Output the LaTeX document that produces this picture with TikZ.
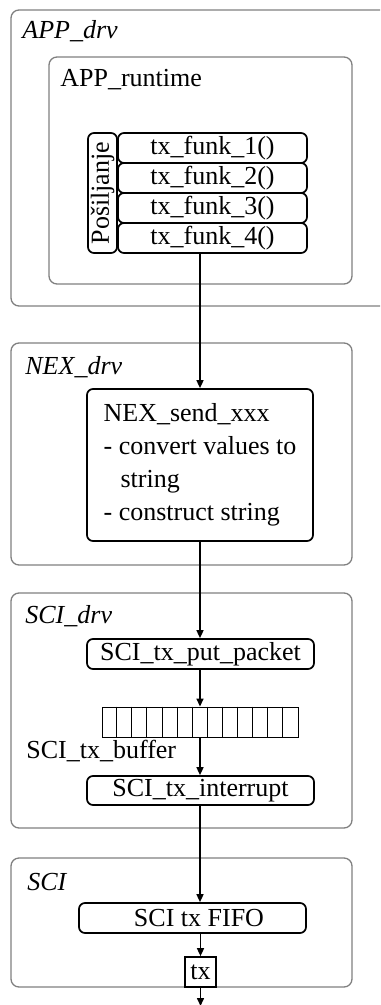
\documentclass[tikz,border=0pt]{standalone}
\usepackage{fontspec}
\setmainfont{Liberation Serif}
\usetikzlibrary{arrows.meta, positioning, calc}
\definecolor{framegray}{HTML}{808080}

\begin{document}
\begin{tikzpicture}[
  x=0.5pt, y=-0.5pt,
  font=\fontsize{13}{16.5}\selectfont,
  layer/.style={rectangle, rounded corners=4pt, draw=framegray, line width=0.65pt},
  laytitle/.style={anchor=base west, inner sep=0pt, font=\fontsize{13}{16.5}\selectfont\itshape},
  plain/.style={anchor=base west, inner sep=0pt},
  func/.style={rectangle, rounded corners=3pt, draw, line width=0.85pt,
               minimum width=113.5pt, minimum height=15pt, inner sep=0pt},
  row/.style={func, minimum width=94.5pt},
  cellbox/.style={rectangle, draw, line width=0.45pt, minimum width=98pt,
                  minimum height=15pt, inner sep=0pt},
  arr/.style={-{Triangle[length=4pt,width=3.5pt]}, line width=0.75pt}
]
\clip (0,0) rectangle (380,1005);

% layers
\node[layer, minimum width=192pt, minimum height=148pt] (appdrv) at (203,158) {};
\node[layer, minimum width=151.5pt, minimum height=113.5pt] (apprt) at (200.5,170.5) {};
\node[layer, minimum width=170.5pt, minimum height=111pt] (nexdrv) at (181.5,454) {};
\node[layer, minimum width=170.5pt, minimum height=117.5pt] (scidrv) at (181.5,710.5) {};
\node[layer, minimum width=170.5pt, minimum height=64.5pt] (sci) at (181.5,922.5) {};

\node[laytitle] (appdrvlbl) at (22,39) {APP\_drv};
\node[plain] (apprtlbl) at (60,87) {APP\_runtime};
\node[laytitle] (nexdrvlbl) at (25,374) {NEX\_drv};
\node[laytitle] (scidrvlbl) at (25,623) {SCI\_drv};
\node[laytitle] (scilbl) at (27,890) {SCI};

% APP_runtime
\node[func, rotate=90, minimum width=60pt, minimum height=14.5pt] (posilj) at (102.5,193) {Pošiljanje};
\node[row] (f1) at (212.5,148) {tx\_funk\_1()};
\node[row] (f2) at (212.5,178) {tx\_funk\_2()};
\node[row] (f3) at (212.5,208) {tx\_funk\_3()};
\node[row] (f4) at (212.5,238) {tx\_funk\_4()};

% NEX_drv
\node[func, minimum width=113pt, minimum height=76pt, align=left] (nexsend) at (200,465)
  {NEX\_send\_xxx\\- convert values to\\\hspace*{8.5pt}string\\- construct string};

% SCI_drv
\node[func] (putpkt) at (200.5,654) {SCI\_tx\_put\_packet};
\node[cellbox] (buf) at (200,722) {};
\foreach \i in {1,...,12}
  \draw[line width=0.45pt] ($(buf.north west)+(\i*15.1,0)$) -- ($(buf.south west)+(\i*15.1,0)$);
\node[plain] (buflbl) at (26,758) {SCI\_tx\_buffer};
\node[func, minimum height=14.5pt] (txint) at (200.5,790.5) {SCI\_tx\_interrupt};

% SCI
\node[func] (fifo) at (192.5,918) {\hspace*{6.5pt}SCI tx FIFO};
\node[rectangle, draw, line width=0.85pt, minimum width=15.5pt, minimum height=15pt,
      inner sep=0pt] (tx) at (200.5,972) {tx};
\coordinate (out) at (200,1006);

% connectors
\draw[arr] (f4.south -| nexsend.north) -- (nexsend.north);
\draw[arr] (nexsend.south) -- (nexsend.south |- putpkt.north);
\draw[arr] (putpkt.south -| buf.north) -- (buf.north);
\draw[arr] (buf.south) -- (buf.south |- txint.north);
\draw[arr] (txint.south -| buf.south) -- (buf.south |- fifo.north);
\draw[arr] (fifo.south -| tx.north) -- (tx.north);
\draw[arr] (tx.south) -- (tx.south |- out);

\end{tikzpicture}
\end{document}
